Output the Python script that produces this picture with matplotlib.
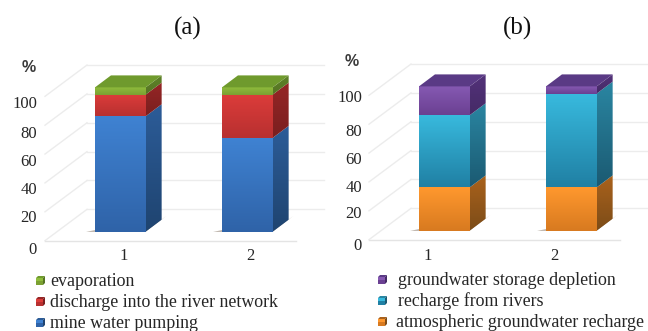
import numpy as np
import matplotlib
matplotlib.use("Agg")
import matplotlib.pyplot as plt
from matplotlib.colors import LinearSegmentedColormap
from matplotlib.patches import Polygon

# values (%)
categories = [1, 2]
tick_values = [0, 20, 40, 60, 80, 100]

pumping = [80, 65]
discharge = [15, 30]
evaporation = [5, 5]

atmospheric = [30, 30]
river_recharge = [50, 65]
storage_depletion = [20, 5]

labels_a = ["evaporation", "discharge into the river network", "mine water pumping"]
labels_b = ["groundwater storage depletion", "recharge from rivers", "atmospheric groundwater recharge"]

# front top, front bottom, side top, side bottom, top face
BLUE = ("#3f82d2", "#2f63a8", "#2c5c98", "#1f4470", "#2c5c98")
RED = ("#dc3c3a", "#b83030", "#962626", "#7a1f1f", "#962626")
GREEN = ("#8fbc3c", "#7ba032", "#5f8228", "#557424", "#6f9a2d")
ORANGE = ("#ff982e", "#d87a20", "#aa621c", "#7c4c18", "#aa621c")
TEAL = ("#38bade", "#2080a4", "#2a86a2", "#1b5a72", "#2a86a2")
PURPLE = ("#8659b2", "#6a4092", "#53327a", "#452a66", "#5a3a85")

W, H = 648, 331
PX_PER_UNIT = 1.443
CAT_PX = 127.0
BAR_W = 50.7 / CAT_PX
DX = 16.0 / CAT_PX
DY = 12.0 / PX_PER_UNIT

plt.rcParams["font.family"] = ["Liberation Serif", "DejaVu Serif"]
TEXT = "#262626"


def gradient_poly(ax, pts, top, bottom):
    pts = np.array(pts)
    cmap = LinearSegmentedColormap.from_list("g", [top, bottom])
    grad = np.linspace(0, 1, 64).reshape(-1, 1)
    im = ax.imshow(
        grad,
        cmap=cmap,
        aspect="auto",
        interpolation="bilinear",
        extent=(pts[:, 0].min(), pts[:, 0].max(), pts[:, 1].min(), pts[:, 1].max()),
        zorder=3,
    )
    clip = Polygon(pts, closed=True, transform=ax.transData)
    im.set_clip_path(clip)


def legend_marker(fig_ax, x, y, colors):
    fig_ax.fill([x - 4, x + 3, x + 3, x - 4], [y - 3, y - 3, y + 4, y + 4], color=colors[1], lw=0)
    fig_ax.fill([x - 4, x + 3, x + 3, x - 4], [y - 3, y - 3, y, y], color=colors[0], lw=0)
    fig_ax.fill([x - 4, x - 2, x + 5, x + 3], [y - 3, y - 5, y - 5, y - 3], color=colors[4], lw=0)
    fig_ax.fill([x + 3, x + 5, x + 5, x + 3], [y - 3, y - 5, y + 2, y + 4], color=colors[3], lw=0)


def draw_panel(ax, series, colors, cx1, base_py, title, title_x, tick_x, y_labels_py, percent_x, tick_right):
    # map panel pixels to categories and values
    ax.set_position([0, 0, 1, 1])
    x_left = 1 + (0 - cx1) / CAT_PX
    x_right = 1 + (W - cx1) / CAT_PX
    y_bottom = (base_py - H) / PX_PER_UNIT
    y_top = base_py / PX_PER_UNIT
    ax.set_xlim(x_left, x_right)
    ax.set_ylim(y_bottom, y_top)
    ax.axis("off")
    ax.patch.set_alpha(0)

    to_x = lambda px: 1 + (px - cx1) / CAT_PX

    # floor and wall gridlines
    front_x = to_x(cx1 - 75.3)
    back_x = to_x(cx1 - 33.3)
    end_x = to_x(cx1 + 204)
    floor_x = to_x(cx1 + 176)
    front_y = -6.2
    back_y = 15.5
    for t in tick_values:
        ax.plot([front_x, back_x], [front_y + t, back_y + t], color="#ececec", lw=1, zorder=1)
        ax.plot([back_x, end_x], [back_y + t, back_y + t], color="#ececec", lw=1, zorder=1)
    ax.plot([front_x, floor_x], [front_y, front_y], color="#e4e4e4", lw=1, zorder=1)

    # stacked 3d bars
    for i, cat in enumerate(categories):
        left = cat - BAR_W / 2
        right = cat + BAR_W / 2
        bottom = 0
        ax.fill(
            [left - 0.07, right, right + DX + 0.035, right + DX],
            [0, 0, DY * 1.3, DY],
            color="#a89c90",
            lw=0,
            zorder=2,
        )
        for vals, c in zip(series, colors):
            top = bottom + vals[i]
            gradient_poly(ax, [(left, bottom), (right, bottom), (right, top), (left, top)], c[0], c[1])
            gradient_poly(
                ax,
                [(right, bottom), (right + DX, bottom + DY), (right + DX, top + DY), (right, top)],
                c[2],
                c[3],
            )
            bottom = top
        ax.fill(
            [left, right, right + DX, left + DX],
            [bottom, bottom, bottom + DY, bottom + DY],
            color=colors[-1][4],
            lw=0,
            zorder=4,
        )
    ax.set_xlim(x_left, x_right)
    ax.set_ylim(y_bottom, y_top)

    # text, placed in axes data units
    ax.text(to_x(title_x), (base_py - 28.5) / PX_PER_UNIT, title, fontsize=18, ha="center", va="center", color="#111111")
    for cat, px in zip(categories, tick_x):
        ax.text(to_x(px), (base_py - 256.5) / PX_PER_UNIT, str(cat), fontsize=12, ha="center", va="center", color=TEXT)
    for t, py in zip(tick_values, y_labels_py):
        ax.text(to_x(tick_right), (base_py - py - 1.5) / PX_PER_UNIT, str(t), fontsize=12, ha="right", va="center", color=TEXT)
    ax.text(to_x(percent_x), (base_py - y_labels_py[-1] + 35) / PX_PER_UNIT, "%", fontsize=11.5, ha="center", va="center",
            color="#3a3a3a", family=["Liberation Sans"], fontweight="bold")


fig = plt.figure(figsize=(W / 100, H / 100), dpi=100)

ax_a = fig.add_axes([0, 0, 1, 1])
draw_panel(
    ax_a,
    [pumping, discharge, evaporation],
    [BLUE, RED, GREEN],
    120.3,
    231.7,
    "(a)",
    188,
    [124, 250],
    [248, 217, 188, 160, 133, 102],
    29,
    37,
)

ax_b = fig.add_axes([0, 0, 1, 1])
draw_panel(
    ax_b,
    [atmospheric, river_recharge, storage_depletion],
    [ORANGE, TEAL, PURPLE],
    444.3,
    230.7,
    "(b)",
    518,
    [428, 554.7],
    [244, 213, 187, 158, 130, 97],
    352,
    362,
)

# legends in pixel coordinates
ax_leg = fig.add_axes([0, 0, 1, 1])
ax_leg.set_xlim(0, W)
ax_leg.set_ylim(H, 0)
ax_leg.axis("off")
ax_leg.patch.set_alpha(0)

for label, c, py in zip(labels_a, [GREEN, RED, BLUE], [281, 302, 323]):
    legend_marker(ax_leg, 40, py, c)
    ax_leg.text(50, py + 0.5, label, fontsize=12.9, ha="left", va="center", color=TEXT)

for label, c, py, tx in zip(labels_b, [PURPLE, TEAL, ORANGE], [280, 301, 322], [398, 398, 396]):
    legend_marker(ax_leg, 382, py, c)
    ax_leg.text(tx, py + 0.5, label, fontsize=12.9, ha="left", va="center", color=TEXT)

fig.savefig("out.png", dpi=100)
